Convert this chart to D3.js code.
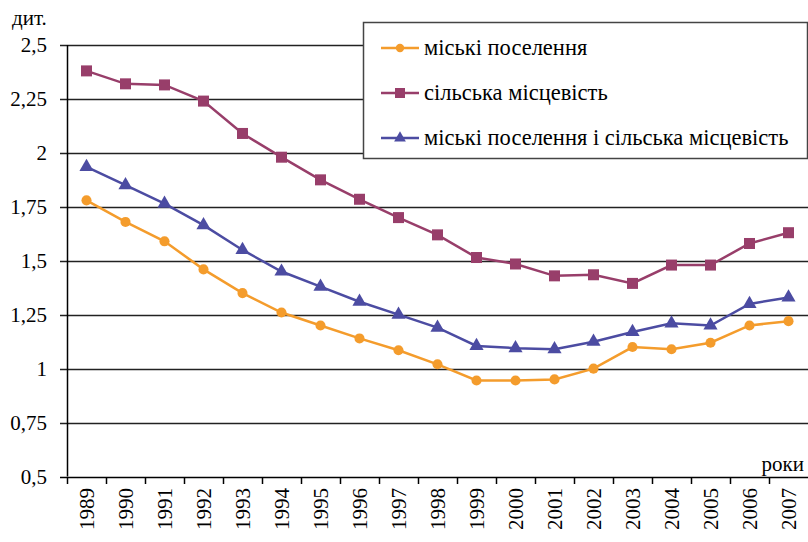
<!DOCTYPE html>
<html>
<head>
<meta charset="utf-8">
<script src="https://cdn.jsdelivr.net/npm/d3@7"></script>
<style>
  body { margin: 0; background: #fff; font-family: 'Liberation Serif', serif; }
  svg { display: block; }
</style>
</head>
<body>
<svg id="chart" width="808" height="542"></svg>
<script>
// Years (categories)
const years = ['1989', '1990', '1991', '1992', '1993', '1994', '1995', '1996', '1997', '1998',
  '1999', '2000', '2001', '2002', '2003', '2004', '2005', '2006', '2007'];

// Series values
const urban = [1.78, 1.68, 1.59, 1.46, 1.35, 1.26, 1.2, 1.14, 1.085, 1.02,
  0.945, 0.945, 0.95, 1.0, 1.1, 1.09, 1.12, 1.2, 1.22];
const rural = [2.38, 2.32, 2.315, 2.24, 2.09, 1.98, 1.875, 1.785, 1.7, 1.62,
  1.515, 1.485, 1.43, 1.435, 1.395, 1.48, 1.48, 1.58, 1.63];
const total = [1.935, 1.85, 1.765, 1.665, 1.55, 1.45, 1.38, 1.31, 1.25, 1.19,
  1.105, 1.095, 1.09, 1.125, 1.17, 1.21, 1.2, 1.3, 1.33];

const yTicks = [0.5, 0.75, 1, 1.25, 1.5, 1.75, 2, 2.25, 2.5];

const seriesNames = ['міські поселення', 'сільська місцевість', 'міські поселення і сільська місцевість'];

const series = [
  {name: seriesNames[0], values: urban, color: '#f49c2c', marker: 'circle'},
  {name: seriesNames[1], values: rural, color: '#983e6a', marker: 'square'},
  {name: seriesNames[2], values: total, color: '#4c4ca2', marker: 'triangle'},
];

const FONT = 'Liberation Serif';

const svg = d3.select('#chart');
const plot = {left: 67, right: 808, top: 45, bottom: 476.5};

const x = d3.scaleBand()
  .domain(years)
  .range([plot.left, plot.right])
  .padding(0);

const y = d3.scaleLinear()
  .domain([0.5, 2.5])
  .range([plot.bottom, plot.top]);

const fmt = (v) => String(v).replace('.', ',');

// Horizontal gridlines with left tick marks
svg.append('g')
  .selectAll('line')
  .data(yTicks)
  .join('line')
    .attr('x1', plot.left - 7)
    .attr('x2', plot.right)
    .attr('y1', (d) => Math.round(y(d)) + 0.5)
    .attr('y2', (d) => Math.round(y(d)) + 0.5)
    .attr('stroke', (d) => d === 0.5 ? '#000' : '#222')
    .attr('stroke-width', 1.5);

// Y labels
svg.append('g')
  .selectAll('text')
  .data(yTicks)
  .join('text')
    .attr('x', 47)
    .attr('y', (d) => y(d) + 7)
    .attr('text-anchor', 'end')
    .attr('font-family', FONT)
    .attr('font-size', 21)
    .attr('fill', '#000')
    .text(fmt);

// Y axis line
svg.append('line')
  .attr('x1', plot.left + 0.5)
  .attr('x2', plot.left + 0.5)
  .attr('y1', plot.top)
  .attr('y2', plot.bottom)
  .attr('stroke', '#000')
  .attr('stroke-width', 1.5);

// X tick marks at band boundaries
svg.append('g')
  .selectAll('line')
  .data(years)
  .join('line')
    .attr('x1', (d) => Math.round(x(d)) + 0.5)
    .attr('x2', (d) => Math.round(x(d)) + 0.5)
    .attr('y1', Math.round(plot.bottom))
    .attr('y2', Math.round(plot.bottom) + 7)
    .attr('stroke', '#000')
    .attr('stroke-width', 1.5);

// X labels (rotated)
svg.append('g')
  .selectAll('text')
  .data(years)
  .join('text')
    .attr('transform', (d) => `translate(${x(d) + x.bandwidth() / 2 + 7}, 488) rotate(-90)`)
    .attr('text-anchor', 'end')
    .attr('font-family', FONT)
    .attr('font-size', 21)
    .attr('fill', '#000')
    .text((d) => d);

// Axis titles
svg.append('text')
  .attr('x', 12)
  .attr('y', 25)
  .attr('font-family', FONT)
  .attr('font-size', 21)
  .text('дит.');

svg.append('text')
  .attr('x', 804)
  .attr('y', 471)
  .attr('text-anchor', 'end')
  .attr('font-family', FONT)
  .attr('font-size', 21)
  .text('роки');

// Marker drawing helper
function drawMarker(sel, type, color, size) {
  if (type === 'circle') {
    sel.append('circle').attr('r', size * 0.42).attr('fill', color);
  } else if (type === 'square') {
    sel.append('rect')
      .attr('x', -size / 2).attr('y', -size / 2)
      .attr('width', size).attr('height', size)
      .attr('fill', color);
  } else {
    sel.append('path')
      .attr('d', d3.symbol().type(d3.symbolTriangle).size(size * size * 0.6)())
      .attr('fill', color);
  }
}

const line = d3.line()
  .x((d, i) => x(years[i]) + x.bandwidth() / 2)
  .y((d) => y(d));

// Series lines and markers
series.forEach((s) => {
  svg.append('path')
    .datum(s.values)
    .attr('d', line)
    .attr('fill', 'none')
    .attr('stroke', s.color)
    .attr('stroke-width', 2.5);

  svg.append('g')
    .selectAll('g')
    .data(s.values)
    .join('g')
      .attr('transform', (d, i) => `translate(${x(years[i]) + x.bandwidth() / 2}, ${y(d)})`)
      .each(function() {
        drawMarker(d3.select(this), s.marker, s.color, s.marker === 'square' ? 11 : 12);
      });
});

// Legend
const legend = svg.append('g').attr('transform', 'translate(363, 22)');
legend.append('rect')
  .attr('x', 0.5).attr('y', 0.5)
  .attr('width', 444).attr('height', 136)
  .attr('fill', '#fff')
  .attr('stroke', '#444')
  .attr('stroke-width', 1.5);

series.forEach((s, i) => {
  const row = legend.append('g').attr('transform', `translate(0, ${26 + i * 45})`);
  row.append('line')
    .attr('x1', 18).attr('x2', 56)
    .attr('stroke', s.color)
    .attr('stroke-width', 2.5);
  const m = row.append('g').attr('transform', 'translate(37, 0)');
  drawMarker(m, s.marker, s.color, 10);
  row.append('text')
    .attr('x', 61)
    .attr('y', 7)
    .attr('font-family', FONT)
    .attr('font-size', 22.5)
    .text(s.name);
});
</script>
</body>
</html>
